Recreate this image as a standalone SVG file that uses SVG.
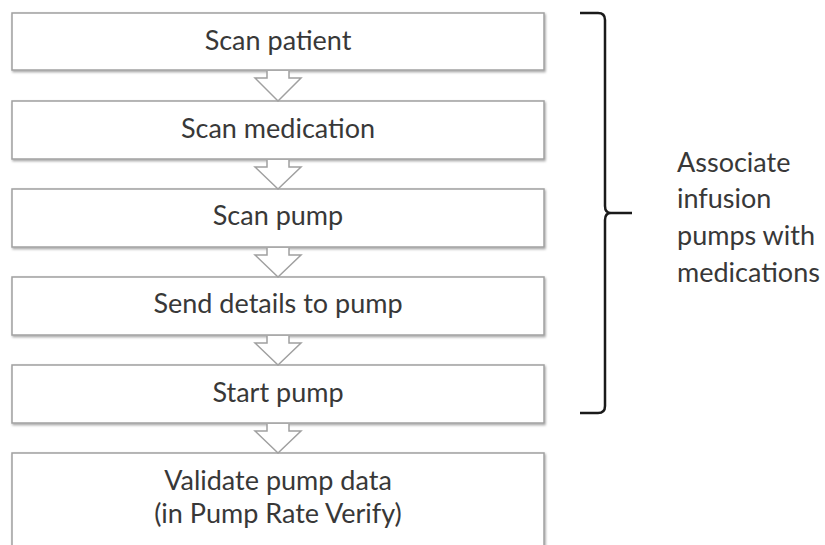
<svg xmlns="http://www.w3.org/2000/svg" width="825" height="545" viewBox="0 0 825 545">
<defs>
<filter id="sh" x="-5%" y="-5%" width="110%" height="120%">
<feDropShadow dx="1" dy="1.5" stdDeviation="1" flood-color="#000" flood-opacity="0.35"/>
</filter>
</defs>
<style>
.box{fill:#fff;stroke:#a0a0a0;stroke-width:1.5;filter:url(#sh)}
.arr{fill:#fff;stroke:#a0a0a0;stroke-width:1.5;stroke-linejoin:miter}
.t{font-family:Lato,"Open Sans",sans-serif;font-size:27px;fill:#383838;text-anchor:middle}
.s{font-family:Lato,"Open Sans",sans-serif;font-size:27px;fill:#383838}
.br{fill:none;stroke:#1a1a1a;stroke-width:2.5;stroke-linecap:butt}
</style>
<rect width="825" height="545" fill="#fff"/>
<g id="n1"><rect class="box" x="12" y="13" width="532" height="57"/><text class="t" x="278" y="50">Scan patient</text></g>
<g id="n2"><rect class="box" x="12" y="101" width="532" height="58"/><text class="t" x="278" y="138">Scan medication</text></g>
<g id="n3"><rect class="box" x="12" y="189" width="532" height="58"/><text class="t" x="278" y="225">Scan pump</text></g>
<g id="n4"><rect class="box" x="12" y="277" width="532" height="58"/><text class="t" x="278" y="313">Send details to pump</text></g>
<g id="n5"><rect class="box" x="12" y="365" width="532" height="58"/><text class="t" x="278" y="402">Start pump</text></g>
<g id="n6"><rect class="box" x="12" y="453" width="532" height="110"/><text class="t" x="278" y="490">Validate pump data</text><text class="t" x="278" y="523">(in Pump Rate Verify)</text></g>
<g id="connectors">
<path class="arr" d="M267,71 V78 H255 L278,101 L301,78 H289 V71"/>
<path class="arr" d="M267,160 V167 H255 L278,189 L301,167 H289 V160"/>
<path class="arr" d="M267,248 V255 H255 L278,277 L301,255 H289 V248"/>
<path class="arr" d="M267,336 V343 H255 L278,365 L301,343 H289 V336"/>
<path class="arr" d="M267,424 V431 H255 L278,453 L301,431 H289 V424"/>
</g>
<g id="bracket">
<path class="br" d="M580,13 H598 Q605,13 605,20 V206 Q605,213 611,213 H632 M611,213 Q605,213 605,220 V406 Q605,413 598,413 H580"/>
<text class="s" x="677" y="172">Associate</text>
<text class="s" x="677" y="208">infusion</text>
<text class="s" x="677" y="245">pumps with</text>
<text class="s" x="677" y="282">medications</text>
</g>
</svg>
